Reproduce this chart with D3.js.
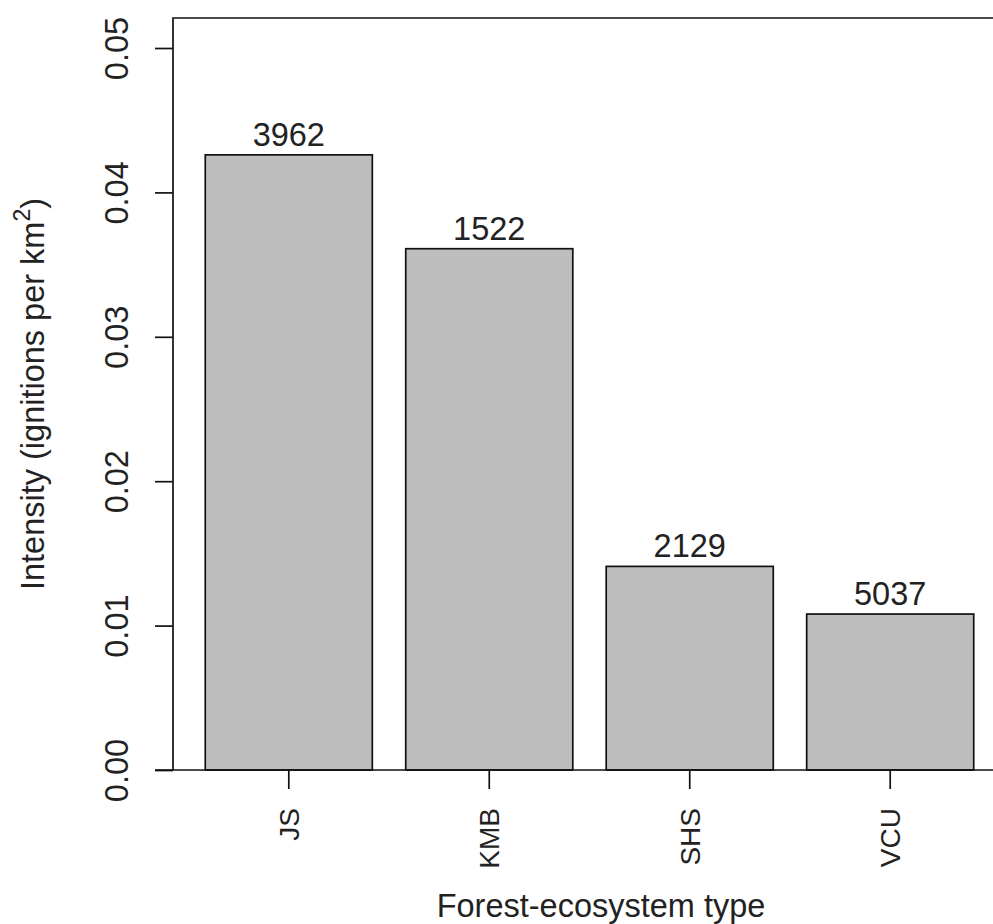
<!DOCTYPE html>
<html>
<head>
<meta charset="utf-8">
<script src="https://cdn.jsdelivr.net/npm/d3@7/dist/d3.min.js"></script>
<style>
  html, body { margin: 0; padding: 0; background: #fff; }
  svg { display: block; }
  text { font-family: "Liberation Sans", Arial, sans-serif; fill: #222; }
</style>
</head>
<body>
<script>
// Fire ignition intensity by forest-ecosystem type
const categories = ["JS", "KMB", "SHS", "VCU"];
const intensity = [0.0426, 0.0361, 0.0141, 0.0108];
const ignitionCounts = ["3962", "1522", "2129", "5037"];
const yTicks = [0, 0.01, 0.02, 0.03, 0.04, 0.05];

const W = 993, H = 924;
const plot = { left: 173, right: 1006, top: 18, bottom: 770 };
const fontSize = 32.5;
const nameSize = 28;

const svg = d3.select("body").append("svg")
  .attr("width", W).attr("height", H);

const x = d3.scaleBand()
  .domain(categories)
  .range([plot.left, plot.right])
  .paddingInner(0.1667)
  .paddingOuter(0.161);

const y = d3.scaleLinear()
  .domain([0, 0.05])
  .range([plot.bottom, 48]);

const data = categories.map((c, i) => ({ cat: c, v: intensity[i], n: ignitionCounts[i] }));

// bars
svg.append("g").selectAll("rect")
  .data(data)
  .join("rect")
  .attr("x", d => x(d.cat))
  .attr("y", d => y(d.v))
  .attr("width", x.bandwidth())
  .attr("height", d => y(0) - y(d.v))
  .attr("fill", "#bebebe")
  .attr("stroke", "#111")
  .attr("stroke-width", 1.7);

// count labels above bars
svg.append("g").selectAll("text")
  .data(data)
  .join("text")
  .attr("x", d => x(d.cat) + x.bandwidth() / 2)
  .attr("y", d => y(d.v) - 9)
  .attr("text-anchor", "middle")
  .attr("font-size", fontSize)
  .text(d => d.n);

// frame (left, top) and baseline
const frame = svg.append("g").attr("stroke", "#111").attr("stroke-width", 1.7).attr("fill", "none");
frame.append("path")
  .attr("d", `M${plot.left},${plot.bottom}V${plot.top}H${W + 5}`);
frame.append("line")
  .attr("x1", 155).attr("x2", W + 5)
  .attr("y1", y(0)).attr("y2", y(0));

// y axis
const yAxis = svg.append("g")
  .attr("transform", `translate(${plot.left},0)`)
  .call(d3.axisLeft(y).tickValues(yTicks).tickSize(18).tickFormat(d3.format(".2f")));
yAxis.select(".domain").remove();
yAxis.selectAll(".tick line").attr("stroke", "#111").attr("stroke-width", 1.7);
yAxis.selectAll(".tick text")
  .attr("font-size", fontSize)
  .attr("fill", "#222")
  .attr("x", null).attr("dy", null)
  .attr("text-anchor", "middle")
  .attr("transform", "translate(-45,0) rotate(-90)");

// x axis
const xAxis = svg.append("g")
  .attr("transform", `translate(0,${plot.bottom})`)
  .call(d3.axisBottom(x).tickSize(19).tickSizeOuter(0));
xAxis.select(".domain").remove();
xAxis.selectAll(".tick line").attr("stroke", "#111").attr("stroke-width", 1.7);
xAxis.selectAll(".tick text")
  .attr("font-size", nameSize)
  .attr("fill", "#222")
  .attr("y", null).attr("dy", null)
  .attr("text-anchor", "end")
  .attr("transform", "translate(10,38) rotate(-90)");

// axis titles
svg.append("text")
  .attr("x", 601).attr("y", 917)
  .attr("text-anchor", "middle")
  .attr("font-size", fontSize)
  .text("Forest-ecosystem type");

const yTitle = svg.append("text")
  .attr("transform", `translate(44,${(plot.top + plot.bottom) / 2}) rotate(-90)`)
  .attr("text-anchor", "middle")
  .attr("font-size", fontSize);
yTitle.append("tspan").text("Intensity (ignitions per km");
yTitle.append("tspan").attr("dy", -14).attr("font-size", 23).text("2");
yTitle.append("tspan").attr("dy", 14).text(")");
</script>
</body>
</html>
